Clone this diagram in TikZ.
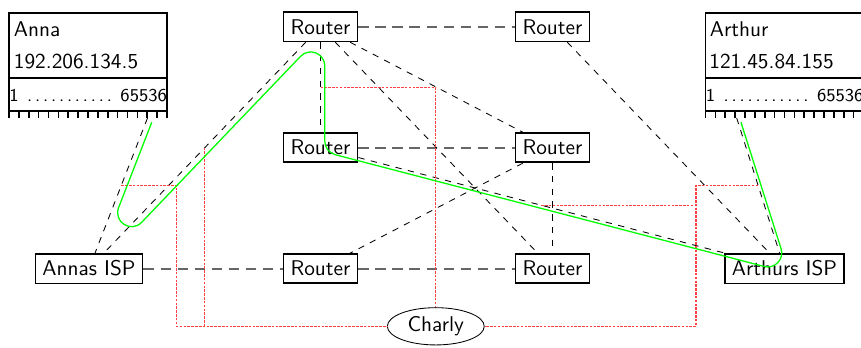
\documentclass[tikz,border=0pt]{standalone}
\usetikzlibrary{calc,shapes.geometric}
\begin{document}
\begin{tikzpicture}[x=0.4695pt,y=-0.4695pt,font=\sffamily,
  router/.style={draw,thick,rectangle,inner sep=3.33pt},
  link/.style={draw,dashed},
  trunk/.style={draw,line width=0.9pt,black!60,dash pattern=on 5pt off 3pt},
  tap/.style={draw,red!75,line width=0.5pt,dash pattern=on 1.2pt off 0.6pt},
  route/.style={draw,green,semithick},
  host/.style={draw,thick},
  label/.style={anchor=base west,inner sep=0pt},
  portrow/.style={anchor=base west,inner sep=0pt,font=\sffamily\fontsize{8.5}{10}\selectfont}]
\useasboundingbox (0,0) rectangle (861,347);
\clip (0,0) rectangle (861,347);

% routers and access providers
\node[router] (tl) at (320.5,26.8) {Router};
\node[router] (tr) at (552.5,26.8) {Router};
\node[router] (ml) at (320.5,147.7) {Router};
\node[router] (mr) at (552.5,147.7) {Router};
\node[router] (bl) at (320.5,268.6) {Router};
\node[router] (br) at (552.5,268.6) {Router};
\node[router] (aisp) at (89,268.6) {Annas ISP};
\node[router] (bisp) at (784.5,268.6) {Arthurs ISP};
\node[draw,ellipse,inner sep=0pt,minimum width=45.5pt,minimum height=17.5pt] (charly) at (435.8,326.3) {Charly};

% host Anna with its port row
\draw[host] (9,12.7) rectangle (167,111);
\draw[host] (9,78) -- (167,78);
\foreach \i in {0,...,16} \draw[host] ({9+9.875*\i},111) -- ++(0,7);
\node[label] (annaname) at (13.5,36.7) {Anna};
\node[label] (annaip) at (13.5,68.3) {192.206.134.5};
\node[portrow] (annaports) at (9,101.7) {\makebox[74pt]{1\hspace{3pt}\dotfill\hspace{3pt}65536}};
\coordinate (aport) at (147.5,118);

% host Arthur with its port row
\draw[host] (705.5,12.7) rectangle (863.5,111);
\draw[host] (705.5,78) -- (863.5,78);
\foreach \i in {0,...,16} \draw[host] ({705.5+9.875*\i},111) -- ++(0,7);
\node[label] (arthurname) at (709.5,36.7) {Arthur};
\node[label] (arthurip) at (709,68.3) {121.45.84.155};
\node[portrow] (arthurports) at (705.5,101.7) {\makebox[74pt]{1\hspace{3pt}\dotfill\hspace{3pt}65536}};
\coordinate (bport) at (736.7,118);

% backbone trunks
\draw[trunk] (tl) -- (tr);
\draw[trunk] (ml) -- (mr);
\draw[trunk] (aisp) -- (bl);
\draw[trunk] (bl) -- (br);

% links used by the connection
\draw[link] (aport) -- node[coordinate,midway] (ta) {} (aisp);
\draw[link] (tl) -- node[coordinate,midway] (tb) {} (aisp);
\draw[link] (tl) -- node[coordinate,midway] (tc) {} (ml);
\draw[link] (ml) -- node[coordinate,midway] (te) {} (bisp);
\draw[link] (bport) -- node[coordinate,midway] (td) {} (bisp);

% remaining links
\draw[link] (tl) -- (mr);
\draw[link] (tl) -- (br);
\draw[link] (tr) -- (bisp);
\draw[link] (mr) -- (bl);
\draw[link] (mr) -- (br);

% wiretaps leading to Charly
\coordinate (ca) at (176.7,326.3);
\coordinate (cd) at (696,326.3);
\draw[tap] (ta) -| (ca) -- (charly.west);
\draw[tap] (tb) -- (tb |- ca);
\draw[tap] (tc) -| (charly.north);
\draw[tap] (td) -| (cd) -- (charly.east);
\draw[tap] (te) -- (te -| cd);

% route of the connection, offset from the links, with round bends
\coordinate (g0) at ([shift={(2pt,-2pt)}]aport);
\coordinate (g1) at ([shift={(2pt,-2pt)}]aisp.center);
\coordinate (g2) at ([shift={(2pt,-2pt)}]tl.center);
\coordinate (g3) at ([shift={(2pt,-2pt)}]ml.center);
\coordinate (g4) at ([shift={(2pt,-2pt)}]bisp.center);
\coordinate (g5) at ([shift={(2pt,-2pt)}]bport);
\draw[route] (g0)
  -- ($(g1)!32.9pt!(g0)$) .. controls ($(g1)!25.7pt!(g0)$) and ($(g1)!25.7pt!(g2)$) .. ($(g1)!32.9pt!(g2)$)
  -- ($(g2)!16.39pt!(g1)$) .. controls ($(g2)!10.47pt!(g1)$) and ($(g2)!10.47pt!(g3)$) .. ($(g2)!16.39pt!(g3)$)
  -- ($(g3)!5.07pt!(g2)$) .. controls ($(g3)!2.08pt!(g2)$) and ($(g3)!2.08pt!(g4)$) .. ($(g3)!5.07pt!(g4)$)
  -- ($(g4)!11.9pt!(g3)$) .. controls ($(g4)!6.76pt!(g3)$) and ($(g4)!6.76pt!(g5)$) .. ($(g4)!11.9pt!(g5)$)
  -- (g5);
\end{tikzpicture}
\end{document}
